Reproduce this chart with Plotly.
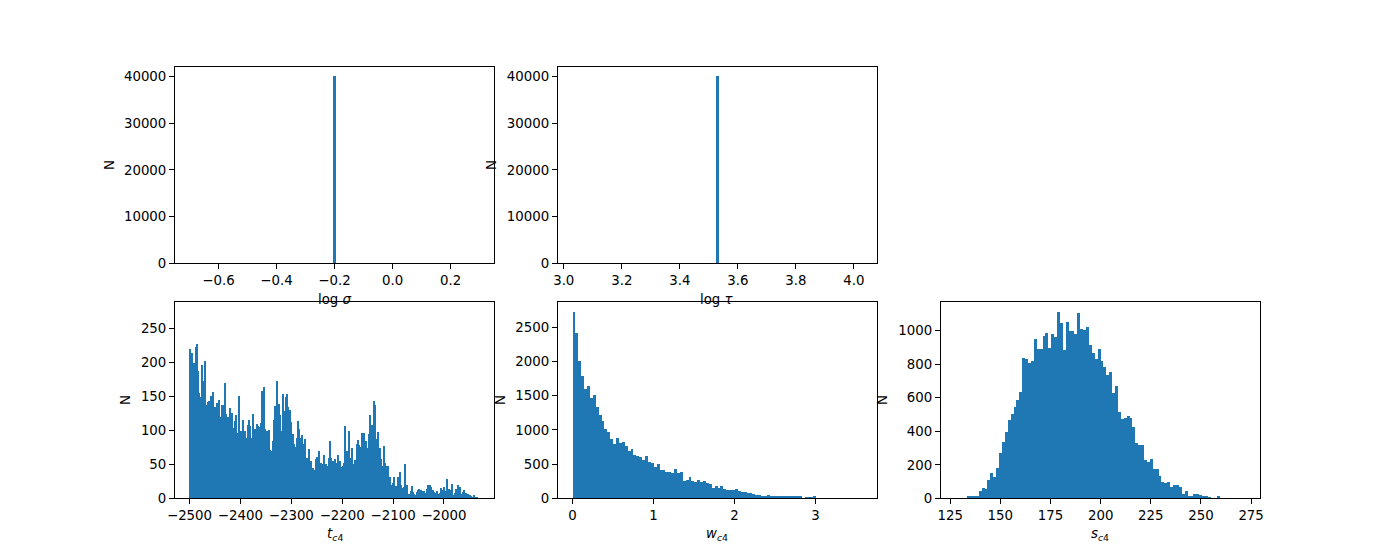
import plotly.graph_objects as go

BLUE = "#1f77b4"
FONT = "DejaVu Sans"
FS = 13.33

# ---------------- data ----------------
log_sigma_value = -0.20
log_sigma_count = 40000
log_tau_value = 3.53
log_tau_count = 40000
top_bin_width = 0.01

t_c4_range = (-2500.0, -1930.0)
t_c4_counts = [
    219, 210, 213, 132, 198, 159, 222, 226, 187, 154,
    149, 122, 196, 98, 172, 201, 137, 126, 141, 143,
    85, 150, 134, 156, 134, 134, 109, 140, 96, 144,
    119, 112, 137, 137, 118, 169, 124, 119, 110, 119,
    132, 98, 125, 85, 103, 113, 122, 96, 76, 150,
    85, 98, 96, 115, 88, 98, 88, 85, 107, 115,
    106, 87, 88, 124, 96, 101, 98, 109, 106, 103,
    104, 110, 157, 75, 163, 101, 82, 98, 81, 100,
    71, 69, 65, 84, 115, 135, 101, 172, 131, 138,
    122, 97, 98, 153, 128, 115,
    149, 153, 134, 93, 129, 112, 74, 94, 79, 75,
    69, 88, 113, 101, 82, 88, 93, 76, 79, 87,
    59, 59, 51, 72, 41, 54, 35, 44, 41, 40,
    57, 60, 57, 69, 51, 51, 50, 38, 63, 40,
    50, 47, 40, 59, 84, 59, 35, 54, 41, 57,
    51, 38, 63, 35, 54, 35, 46, 47, 51, 106,
    68, 69, 60, 98, 50, 59, 74, 50, 44, 56,
    49, 79, 85, 78, 75, 63, 96, 56, 96, 68,
    84, 54, 74, 94, 122, 104, 107, 107, 143, 137,
    87, 68, 97, 50, 74, 57, 47,
    24, 76, 51, 35, 47, 47, 28, 31, 15, 19,
    22, 31, 13, 18, 18, 31, 18, 38, 19, 15,
    7, 16, 50, 19, 19, 6, 3, 6, 10, 18,
    9, 6, 4, 3, 9, 12, 13, 3, 12, 3,
    10, 10, 7, 7, 13, 19, 9, 19, 16, 6,
    12, 9, 7, 4, 10, 6, 6, 7, 15, 12,
    6, 16, 10, 3, 28, 9, 13, 9, 12, 21,
    4, 1, 7, 13, 7, 19, 6, 16, 6, 6,
    9, 12, 4, 7, 3, 6, 1, 4, 3, 1,
    1, 4, 1, 0, 1, 0, 0,
]

w_c4_range = (0.0, 3.58)
w_c4_counts = [
    2712, 2406, 1997, 1779, 1589, 1633, 1458, 1502, 1327, 1210,
    1123, 1006, 962, 860, 787, 875, 802, 816, 758, 685,
    714, 627, 612, 598, 554, 612, 525, 510, 452, 496,
    408, 408, 379, 379, 364, 423, 364, 379, 248, 262,
    306, 248, 233, 262, 233, 248, 219, 204, 146, 175,
    146, 175, 131, 117, 117, 117, 131, 102, 87, 87,
    73, 73, 58, 44, 44, 29, 29, 44, 29, 15,
    15, 29, 29, 15, 15, 15, 15, 15, 15, 0,
    3, 2, 2, 15, 0, 0, 0, 0, 0, 0,
    0, 0, 0, 0, 0, 0, 0, 0, 0, 0,
]

s_c4_range = (127.6, 272.2)
s_c4_counts = [
    0, 0, 0, 0,
    6, 6, 6, 12, 42, 60, 54, 107, 149, 125,
    179, 268, 334, 394, 465, 501, 543, 584, 632, 835,
    829, 805, 817, 948, 889, 889, 966, 984, 895, 978,
    960, 1109, 1044, 883, 1050, 996, 996, 978, 1103, 1008,
    1002, 1020, 912, 865, 829, 889, 817, 781, 734, 752,
    626, 668, 513, 471, 477, 489, 477, 423, 328, 316,
    316, 227, 215, 233, 173, 173, 131, 95, 89, 95,
    66, 78, 78, 66, 24, 42, 12, 12, 24, 24,
    18, 12, 6, 2, 0, 0, 12,
    0, 0, 0, 0, 0, 0, 0, 0, 0,
]

sigma_ticks = [-0.6, -0.4, -0.2, 0.0, 0.2]
sigma_ticktext = ["\u22120.6", "\u22120.4", "\u22120.2", "0.0", "0.2"]
tau_ticks = [3.0, 3.2, 3.4, 3.6, 3.8, 4.0]
tau_ticktext = ["3.0", "3.2", "3.4", "3.6", "3.8", "4.0"]
t_ticks = [-2500, -2400, -2300, -2200, -2100, -2000]
t_ticktext = ["\u22122500", "\u22122400", "\u22122300", "\u22122200", "\u22122100", "\u22122000"]
w_ticks = [0, 1, 2, 3]
s_ticks = [125, 150, 175, 200, 225, 250, 275]
top_yticks = [0, 10000, 20000, 30000, 40000]
t_yticks = [0, 50, 100, 150, 200, 250]
w_yticks = [0, 500, 1000, 1500, 2000, 2500]
s_yticks = [0, 200, 400, 600, 800, 1000]

# y-axis maxima (matplotlib autoscale top)
top_ymax = 42000
t_ymax = 288
w_ymax = 2860
s_ymax = 1169


def hist_bars(lo, hi, counts):
    n = len(counts)
    w = (hi - lo) / n
    centers = [lo + (i + 0.5) * w for i in range(n)]
    return centers, w


def margin_range(lo, hi, frac=0.05):
    span = hi - lo
    return [lo - frac * span, hi + frac * span]


fig = go.Figure()

fig.add_trace(go.Bar(x=[log_sigma_value], y=[log_sigma_count], width=[top_bin_width],
                     marker=dict(color=BLUE, line=dict(width=0)), xaxis="x", yaxis="y"))
fig.add_trace(go.Bar(x=[log_tau_value], y=[log_tau_count], width=[top_bin_width],
                     marker=dict(color=BLUE, line=dict(width=0)), xaxis="x2", yaxis="y2"))
tc, tw = hist_bars(*t_c4_range, t_c4_counts)
fig.add_trace(go.Bar(x=tc, y=t_c4_counts, width=tw,
                     marker=dict(color=BLUE, line=dict(width=0)), xaxis="x3", yaxis="y3"))
wc, ww = hist_bars(*w_c4_range, w_c4_counts)
fig.add_trace(go.Bar(x=wc, y=w_c4_counts, width=ww,
                     marker=dict(color=BLUE, line=dict(width=0)), xaxis="x4", yaxis="y4"))
sc, sw = hist_bars(*s_c4_range, s_c4_counts)
fig.add_trace(go.Bar(x=sc, y=s_c4_counts, width=sw,
                     marker=dict(color=BLUE, line=dict(width=0)), xaxis="x5", yaxis="y5"))

L, R, B, T = 0.125, 0.9, 0.11, 0.88
cw = (R - L) / 3.4
rh = (T - B) / 2.2
cols = [[L + i * 1.2 * cw, L + i * 1.2 * cw + cw] for i in range(3)]
rows = [[T - rh, T], [B, B + rh]]

tickfont = dict(family=FONT, size=FS, color="black")


def ax(domain, anchor, rng, tickvals, ticktext=None):
    return dict(domain=domain, anchor=anchor, range=rng, showline=True, linecolor="black",
                linewidth=1, mirror=True, ticks="outside", ticklen=5, tickwidth=1,
                tickcolor="black", showgrid=False, zeroline=False, tickfont=tickfont,
                tickmode="array", tickvals=tickvals, automargin=False,
                ticktext=ticktext if ticktext is not None else [str(v) for v in tickvals],
                fixedrange=True)


layout = dict(
    width=1400, height=560, autosize=False,
    margin=dict(l=0, r=0, t=0, b=0, pad=0),
    paper_bgcolor="white", plot_bgcolor="white",
    showlegend=False, bargap=0,
    font=dict(family=FONT, size=FS, color="black"),
    xaxis=ax(cols[0], "y", margin_range(log_sigma_value - 0.5, log_sigma_value + 0.5),
             sigma_ticks, sigma_ticktext),
    yaxis=ax(rows[0], "x", [0, top_ymax], top_yticks),
    xaxis2=ax(cols[1], "y2", margin_range(log_tau_value - 0.5, log_tau_value + 0.5),
              tau_ticks, tau_ticktext),
    yaxis2=ax(rows[0], "x2", [0, top_ymax], top_yticks),
    xaxis3=ax(cols[0], "y3", margin_range(*t_c4_range), t_ticks, t_ticktext),
    yaxis3=ax(rows[1], "x3", [0, t_ymax], t_yticks),
    xaxis4=ax(cols[1], "y4", margin_range(*w_c4_range), w_ticks),
    yaxis4=ax(rows[1], "x4", [0, w_ymax], w_yticks),
    xaxis5=ax(cols[2], "y5", margin_range(*s_c4_range), s_ticks),
    yaxis5=ax(rows[1], "x5", [0, s_ymax], s_yticks),
)


def ann(text, x, y, angle=0):
    return dict(text=text, x=x, y=y, xref="paper", yref="paper", showarrow=False,
                xanchor="center", yanchor="middle", textangle=angle,
                font=dict(family=FONT, size=FS, color="black"))


layout["annotations"] = [
    ann("N", 109 / 1400, 1 - 165 / 560, -90),
    ann("N", 491 / 1400, 1 - 165 / 560, -90),
    ann("N", 125 / 1400, 1 - 400 / 560, -90),
    ann("N", 500 / 1400, 1 - 400 / 560, -90),
    ann("N", 882 / 1400, 1 - 400 / 560, -90),
    ann("log <i>σ</i>", sum(cols[0]) / 2, 1 - 299 / 560),
    ann("log <i>τ</i>", sum(cols[1]) / 2, 1 - 299 / 560),
    ann("<i>t</i><sub><i>c</i>4</sub>", sum(cols[0]) / 2, 1 - 534 / 560),
    ann("<i>w</i><sub><i>c</i>4</sub>", sum(cols[1]) / 2, 1 - 534 / 560),
    ann("<i>s</i><sub><i>c</i>4</sub>", sum(cols[2]) / 2, 1 - 534 / 560),
]

fig.update_layout(**layout)
fig.write_html(
    "out.html",
    config={"responsive": False, "displayModeBar": False},
    post_script="document.body.style.margin='0';document.body.style.overflow='hidden';",
)
